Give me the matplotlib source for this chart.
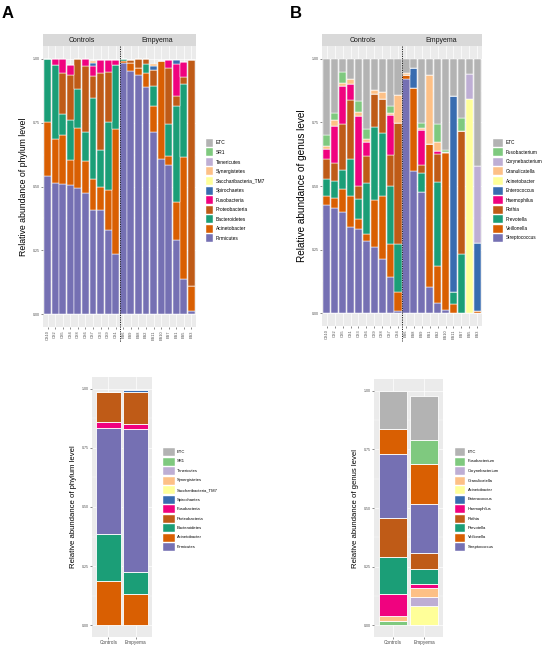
import numpy as np
import matplotlib
matplotlib.use("Agg")
import matplotlib.pyplot as plt
from matplotlib.patches import Rectangle

plt.rcParams['font.family'] = ['Liberation Sans', 'DejaVu Sans']

W, H = 548, 655

# ---------------- data: panel A (phylum, per sample) ----------------
a_samples = ['CS10', 'CS2', 'CS5', 'CS4', 'CS8', 'CS6', 'CS7', 'CS3', 'CS9', 'CS1',
             'ES6', 'ES9', 'ES8', 'ES2', 'ES11', 'ES10', 'ES7', 'ES1', 'ES5', 'ES3']
a_firmicutes = [.543, .513, .510, .506, .494, .474, .409, .409, .329, .234,
                .982, .952, .935, .890, .713, .609, .583, .290, .136, .013]
a_acinetobacter = [.208, .171, .190, .098, .236, .126, .120, .091, .158, .493,
                   .010, .031, .030, .053, .102, .384, .036, .149, .481, .098]
a_bacteroidetes = [.249, .290, .082, .158, .153, .114, .319, .143, .266, .247,
                   .008, 0, 0, .037, .079, 0, .124, .376, .283, 0]
a_proteobacteria = [0, 0, .162, .176, .117, .256, .083, .302, .195, 0,
                    0, .014, .033, .018, .062, 0, .222, .040, .027, .885]
a_fusobacteria = [0, .026, .055, .036, 0, .030, .039, .049, .048, .023,
                  0, 0, 0, 0, 0, 0, .030, .124, .062, 0]
a_spirochaetes = [0, 0, 0, 0, 0, 0, .013, 0, 0, 0,
                  0, 0, 0, 0, .014, 0, 0, .016, 0, 0]
a_synergistetes = [0, 0, 0, 0, 0, 0, .010, 0, 0, 0,
                   0, 0, 0, 0, .008, 0, 0, 0, 0, 0]

# ---------------- data: panel B (genus, per sample) ----------------
b_samples = ['CS10', 'CS2', 'CS5', 'CS1', 'CS3', 'CS6', 'CS9', 'CS8', 'CS7', 'CS4',
             'ES6', 'ES8', 'ES9', 'ES1', 'ES2', 'ES10', 'ES11', 'ES7', 'ES5', 'ES3']
b_streptococcus = [.426, .412, .396, .337, .331, .282, .259, .213, .141, .010,
                   .919, .559, .477, .102, .041, .014, 0, 0, 0, 0]
b_veillonella = [.035, .040, .094, .124, .039, .029, .187, .248, .131, .072,
                 .016, .327, 0, .562, .146, .615, .037, 0, 0, .010]
b_prevotella = [.066, .068, .073, .144, .078, .200, .286, .246, .229, .190,
                0, 0, .076, 0, .329, .006, .045, .233, 0, 0]
b_rothia = [.078, .072, .182, .232, .052, .105, .128, .134, .120, .474,
            0, 0, .029, 0, .109, 0, 0, .483, 0, 0]
b_haemophilus = [.039, .144, .148, .062, .276, .057, 0, 0, .157, 0,
                 0, 0, .137, 0, .013, 0, 0, 0, 0, 0]
b_enterococcus = [0, 0, 0, 0, 0, 0, 0, 0, 0, 0,
                  0, .078, 0, 0, 0, 0, .772, 0, 0, .267]
b_acinetobacter = [0, 0, 0, 0, 0, 0, 0, 0, 0, 0,
                   0, 0, 0, 0, 0, 0, 0, 0, .843, 0]
b_granulicatella = [.013, .023, .010, .020, .013, .010, .016, .028, .010, .112,
                    .008, 0, .010, .271, .033, 0, 0, 0, 0, 0]
b_corynebacterium = [0, 0, 0, 0, 0, 0, 0, 0, 0, 0,
                     0, 0, 0, 0, 0, 0, 0, 0, .096, .301]
b_fusobacterium = [.042, .029, .046, 0, .044, .040, 0, 0, .026, 0,
                   0, 0, .020, 0, .072, .005, 0, .053, 0, 0]
b_etc = [.301, .212, .051, .081, .167, .277, .124, .131, .186, .142,
         .057, .036, .251, .065, .257, .360, .146, .231, .061, .422]

# ---------------- data: panel C (phylum, pooled) ----------------
groups = ['Controls', 'Empyema']
c_acinetobacter = [.187, .130]
c_bacteroidetes = [.199, .094]
c_firmicutes = [.449, .608]
c_fusobacteria = [.025, .020]
c_proteobacteria = [.128, .134]
c_spirochaetes = [0, .011]

# ---------------- data: panel D (genus, pooled) ----------------
d_fusobacterium_low = [.020, 0]
d_acinetobacter = [0, .081]
d_corynebacterium = [0, .040]
d_granulicatella = [.020, .040]
d_haemophilus = [.092, .014]
d_prevotella = [.160, .067]
d_rothia = [.165, .068]
d_streptococcus = [.275, .209]
d_veillonella = [.103, .168]
d_fusobacterium = [0, .103]
d_etc = [.165, .189]

phylum_legend = ['ETC', 'SR1', 'Tenericutes', 'Synergistetes', 'Saccharibacteria_TM7',
                 'Spirochaetes', 'Fusobacteria', 'Proteobacteria', 'Bacteroidetes',
                 'Acinetobacter', 'Firmicutes']
genus_legend = ['ETC', 'Fusobacterium', 'Corynebacterium', 'Granulicatella',
                'Acinetobacter', 'Enterococcus', 'Haemophilus', 'Rothia',
                'Prevotella', 'Veillonella', 'Streptococcus']
legend_colors = ['#B3B3B3', '#7FC97F', '#BEAED4', '#FDC086', '#FFFF99', '#386CB0',
                 '#F0027F', '#BF5B17', '#1B9E77', '#D95F02', '#7570B3']
col = dict(zip(phylum_legend, legend_colors))
gcol = dict(zip(genus_legend, legend_colors))

PANEL_BG = '#EBEBEB'
STRIP_BG = '#D9D9D9'
TXT = '#4D4D4D'


def box(l, t, r, b):
    return [l / W, 1 - b / H, (r - l) / W, (b - t) / H]


def style_ax(ax, ylab, ylab_size, tick_size):
    ax.set_facecolor(PANEL_BG)
    for s in ax.spines.values():
        s.set_visible(False)
    ax.set_ylim(-0.05, 1.05)
    ax.set_yticks([0, .25, .5, .75, 1.0])
    ax.set_yticklabels(['0.00', '0.25', '0.50', '0.75', '1.00'])
    ax.set_yticks([.125, .375, .625, .875], minor=True)
    ax.grid(True, which='major', color='white', lw=0.5)
    ax.grid(True, which='minor', axis='y', color='white', lw=0.25)
    ax.set_axisbelow(True)
    ax.tick_params(axis='both', which='major', length=1.5, width=0.4, color='#333333',
                   labelsize=tick_size, labelcolor=TXT, pad=1)
    ax.tick_params(axis='y', which='minor', length=0)
    ax.set_ylabel(ylab, fontsize=ylab_size, labelpad=3)


def stack(ax, x, layers, width=0.9, lw=0.35):
    bottom = np.zeros(len(x))
    for vals, c in layers:
        vals = np.asarray(vals, dtype=float)
        ax.bar(x, vals, width=width, bottom=bottom, color=c,
               edgecolor='white', linewidth=lw)
        bottom += vals


def legend(fig, kx, kw, ytop, labels, colors, fs, kh=8.0, step=9.5, tx=None):
    for i, (lab, c) in enumerate(zip(labels, colors)):
        yc = ytop + i * step
        fig.patches.append(Rectangle(((kx) / W, 1 - (yc + kh / 2) / H), kw / W, kh / H,
                                     transform=fig.transFigure, facecolor=c,
                                     edgecolor='white', lw=0.3))
        fig.text((tx if tx else kx + kw + 3) / W, 1 - yc / H, lab, fontsize=fs,
                 va='center', ha='left', color='black')


def strip(fig, rect, n):
    sax = fig.add_axes(rect)
    sax.set_facecolor(STRIP_BG)
    sax.set_xlim(0.4, n + 0.6)
    sax.set_ylim(0, 1)
    sax.set_xticks([])
    sax.set_yticks([])
    for s in sax.spines.values():
        s.set_visible(False)
    sax.text(5.5, 0.5, 'Controls', ha='center', va='center', fontsize=5, color='#1A1A1A')
    sax.text(15.5, 0.5, 'Empyema', ha='center', va='center', fontsize=5, color='#1A1A1A')


fig = plt.figure(figsize=(W / 100, H / 100), dpi=100)

# ---------------- Panel A ----------------
x20 = np.arange(1, 21)
axA = fig.add_axes(box(43, 46, 196, 327))
style_ax(axA, 'Relative abundance of phylum level', 6.3, 2.6)
stack(axA, x20, [(a_firmicutes, col['Firmicutes']),
                 (a_acinetobacter, col['Acinetobacter']),
                 (a_bacteroidetes, col['Bacteroidetes']),
                 (a_proteobacteria, col['Proteobacteria']),
                 (a_fusobacteria, col['Fusobacteria']),
                 (a_spirochaetes, col['Spirochaetes']),
                 (a_synergistetes, col['Synergistetes'])])
axA.set_xlim(0.4, 20.6)
axA.set_xticks(x20)
axA.set_xticklabels(a_samples, rotation=90, fontsize=2.8)
axA.plot([10.5, 10.5], [1.05, -0.11], ls=(0, (1.2, 1.2)), color='#222222', lw=0.7,
         clip_on=False)
strip(fig, box(43, 34, 196, 46), 20)
legend(fig, 206, 7, 143, phylum_legend, legend_colors, 3.5)
fig.text(2 / W, 1 - 13 / H, 'A', fontsize=12, fontweight='bold', va='center')

# ---------------- Panel B ----------------
axB = fig.add_axes(box(322, 46, 482, 326))
style_ax(axB, 'Relative abundance of genus level', 7.2, 2.6)
stack(axB, x20, [(b_streptococcus, gcol['Streptococcus']),
                 (b_veillonella, gcol['Veillonella']),
                 (b_prevotella, gcol['Prevotella']),
                 (b_rothia, gcol['Rothia']),
                 (b_haemophilus, gcol['Haemophilus']),
                 (b_enterococcus, gcol['Enterococcus']),
                 (b_acinetobacter, gcol['Acinetobacter']),
                 (b_granulicatella, gcol['Granulicatella']),
                 (b_corynebacterium, gcol['Corynebacterium']),
                 (b_fusobacterium, gcol['Fusobacterium']),
                 (b_etc, gcol['ETC'])])
axB.set_xlim(0.4, 20.6)
axB.set_xticks(x20)
axB.set_xticklabels(b_samples, rotation=90, fontsize=2.8)
axB.plot([10.5, 10.5], [1.05, -0.11], ls=(0, (1.2, 1.2)), color='#222222', lw=0.7,
         clip_on=False)
strip(fig, box(322, 34, 482, 46), 20)
legend(fig, 493, 10, 143, genus_legend, legend_colors, 3.4)
fig.text(290 / W, 1 - 13 / H, 'B', fontsize=12, fontweight='bold', va='center')

# ---------------- Panel C ----------------
x2 = np.arange(1, 3)
axC = fig.add_axes(box(92, 377, 152, 637))
style_ax(axC, 'Relative abundance of phylum level', 5.6, 2.6)
stack(axC, x2, [(c_acinetobacter, col['Acinetobacter']),
                (c_bacteroidetes, col['Bacteroidetes']),
                (c_firmicutes, col['Firmicutes']),
                (c_fusobacteria, col['Fusobacteria']),
                (c_proteobacteria, col['Proteobacteria']),
                (c_spirochaetes, col['Spirochaetes'])], lw=0.6)
axC.set_xlim(0.4, 2.6)
axC.set_xticks(x2)
axC.set_xticklabels(groups, fontsize=3.4)
legend(fig, 163, 12, 452, phylum_legend, legend_colors, 3.0, tx=177)

# ---------------- Panel D ----------------
axD = fig.add_axes(box(374, 379, 443, 637))
style_ax(axD, 'Relative abundance of genus level', 5.6, 2.6)
stack(axD, x2, [(d_fusobacterium_low, gcol['Fusobacterium']),
                (d_acinetobacter, gcol['Acinetobacter']),
                (d_corynebacterium, gcol['Corynebacterium']),
                (d_granulicatella, gcol['Granulicatella']),
                (d_haemophilus, gcol['Haemophilus']),
                (d_prevotella, gcol['Prevotella']),
                (d_rothia, gcol['Rothia']),
                (d_streptococcus, gcol['Streptococcus']),
                (d_veillonella, gcol['Veillonella']),
                (d_fusobacterium, gcol['Fusobacterium']),
                (d_etc, gcol['ETC'])], lw=0.6)
axD.set_xlim(0.4, 2.6)
axD.set_xticks(x2)
axD.set_xticklabels(groups, fontsize=3.4)
legend(fig, 455, 10, 452, genus_legend, legend_colors, 3.0, tx=468)

fig.savefig('out.png', dpi=100)
